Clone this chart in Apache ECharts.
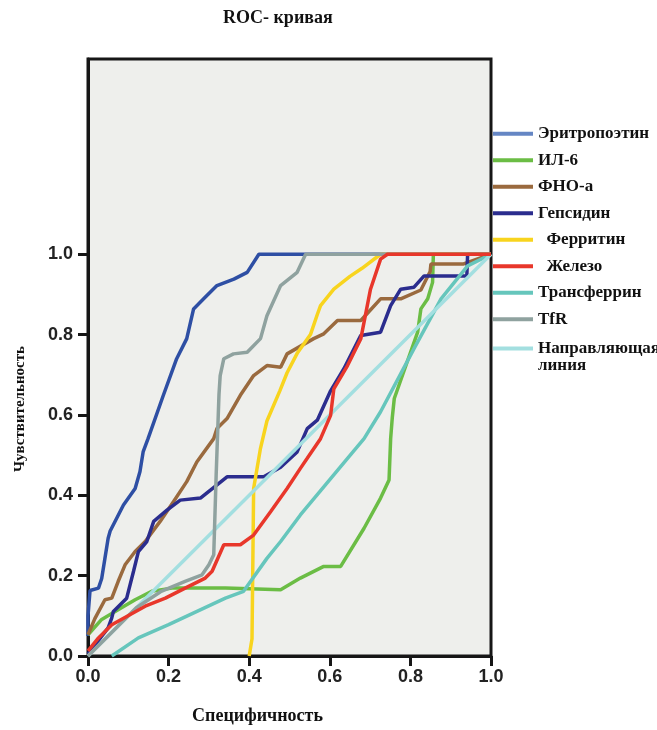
<!DOCTYPE html>
<html><head><meta charset="utf-8">
<script src="https://cdn.jsdelivr.net/npm/echarts@6/dist/echarts.min.js"></script>
<style>html,body{margin:0;padding:0;background:#fff}#c{width:657px;height:730px}</style>
</head><body><div id="c"></div>
<script>
// ---- data (x = специфичность, y = чувствительность) ----
const titleText = 'ROC- кривая';
const xName = 'Специфичность';
const yName = 'Чувствительность';
const tickValues = [0, 0.2, 0.4, 0.6, 0.8, 1.0];
const legendOrder = ['Эритропоэтин', 'ИЛ-6', 'ФНО-а', 'Гепсидин', 'Ферритин', 'Железо', 'Трансферрин', 'TfR'];
const guideName = 'Направляющая линия';

const epo = [[0,0.05],[0,0.1],[0.005,0.163],[0.026,0.169],[0.034,0.193],[0.042,0.243],[0.05,0.293],[0.055,0.311],[0.088,0.376],[0.117,0.417],[0.129,0.459],[0.137,0.509],[0.149,0.541],[0.187,0.649],[0.22,0.74],[0.245,0.79],[0.262,0.864],[0.287,0.889],[0.32,0.922],[0.362,0.938],[0.395,0.955],[0.424,1.0],[1,1]];
const il6 = [[0,0.053],[0.034,0.091],[0.08,0.118],[0.117,0.14],[0.158,0.161],[0.208,0.169],[0.341,0.169],[0.478,0.165],[0.527,0.194],[0.585,0.223],[0.627,0.223],[0.685,0.318],[0.726,0.393],[0.747,0.438],[0.751,0.541],[0.755,0.593],[0.76,0.641],[0.818,0.806],[0.826,0.864],[0.843,0.889],[0.855,0.93],[0.857,1.0],[1,1]];
const tnf = [[0,0.053],[0.017,0.093],[0.042,0.14],[0.059,0.144],[0.075,0.186],[0.092,0.227],[0.117,0.26],[0.142,0.285],[0.179,0.335],[0.212,0.384],[0.245,0.434],[0.27,0.483],[0.312,0.541],[0.32,0.566],[0.345,0.591],[0.378,0.649],[0.411,0.698],[0.444,0.723],[0.478,0.719],[0.494,0.752],[0.56,0.79],[0.585,0.802],[0.619,0.835],[0.677,0.835],[0.726,0.889],[0.776,0.889],[0.826,0.911],[0.849,0.957],[0.851,0.976],[0.932,0.976],[1,1]];
const hepcidin = [[0,0.005],[0.05,0.07],[0.059,0.095],[0.063,0.111],[0.096,0.144],[0.113,0.211],[0.125,0.26],[0.146,0.285],[0.163,0.335],[0.196,0.363],[0.229,0.388],[0.279,0.393],[0.345,0.446],[0.436,0.446],[0.478,0.47],[0.519,0.508],[0.544,0.566],[0.569,0.587],[0.602,0.66],[0.635,0.715],[0.677,0.798],[0.726,0.806],[0.751,0.872],[0.776,0.913],[0.809,0.918],[0.834,0.946],[0.94,0.946],[0.942,1.0],[1,1]];
const ferritin = [[0.4,0],[0.403,0.003],[0.407,0.043],[0.411,0.417],[0.428,0.517],[0.444,0.585],[0.476,0.66],[0.494,0.705],[0.52,0.755],[0.552,0.8],[0.569,0.85],[0.577,0.872],[0.61,0.913],[0.65,0.945],[0.68,0.965],[0.726,1.0],[1,1]];
const iron = [[0,0.013],[0.026,0.045],[0.059,0.078],[0.142,0.124],[0.192,0.144],[0.241,0.169],[0.291,0.194],[0.308,0.211],[0.337,0.277],[0.378,0.277],[0.411,0.301],[0.453,0.359],[0.494,0.417],[0.527,0.467],[0.544,0.492],[0.577,0.541],[0.602,0.599],[0.61,0.665],[0.644,0.723],[0.677,0.79],[0.701,0.913],[0.726,0.988],[0.743,1.0],[1,1]];
const transferrin = [[0.059,0],[0.125,0.045],[0.2,0.078],[0.341,0.144],[0.386,0.161],[0.444,0.243],[0.478,0.285],[0.527,0.351],[0.644,0.492],[0.685,0.541],[0.726,0.608],[0.809,0.765],[0.876,0.889],[0.942,0.971],[1,1]];
const tfr = [[0,0],[0.05,0.05],[0.12,0.12],[0.18,0.16],[0.241,0.186],[0.283,0.202],[0.3,0.227],[0.312,0.252],[0.318,0.45],[0.325,0.65],[0.328,0.698],[0.337,0.74],[0.361,0.752],[0.395,0.756],[0.428,0.79],[0.444,0.847],[0.478,0.922],[0.519,0.955],[0.54,1.0],[1,1]];
const guide = [[0,0],[1,1]];

// ---- styling ----
const colors = {
  'Эритропоэтин': '#2e4fa4',
  'ИЛ-6': '#6bbd45',
  'ФНО-а': '#9a6a3e',
  'Гепсидин': '#2b2d8e',
  'Ферритин': '#f8d41e',
  'Железо': '#e8372b',
  'Трансферрин': '#66c6bc',
  'TfR': '#8fa29f',
  'Направляющая линия': '#a3dfe0'
};
const drawOrder = [
  ['Эритропоэтин', epo], ['ИЛ-6', il6], ['ФНО-а', tnf], ['Гепсидин', hepcidin],
  ['Ферритин', ferritin], ['Трансферрин', transferrin], ['Направляющая линия', guide],
  ['TfR', tfr], ['Железо', iron]
];
const serif = '"Liberation Serif", "Times New Roman", serif';
const sans = '"Liberation Sans", Arial, sans-serif';

const chart = echarts.init(document.getElementById('c'));
const legendText = {fontFamily: serif, fontWeight: 'bold', fontSize: 17, color: '#111', lineHeight: 17};
chart.setOption({
  animation: false,
  backgroundColor: '#fff',
  title: {
    text: titleText, left: 218, top: 4,
    textStyle: {fontFamily: serif, fontWeight: 'bold', fontSize: 18, color: '#111'}
  },
  grid: {
    left: 88, right: 166, top: 59, bottom: 72,
    show: true, backgroundColor: '#eeefec', borderColor: '#161616', borderWidth: 3
  },
  legend: [{
    orient: 'vertical', left: 488, top: 120.2, itemGap: 9.5,
    itemWidth: 40, itemHeight: 4, icon: 'rect',
    data: legendOrder.map(n => n === 'Эритропоэтин'
      ? {name: n, itemStyle: {color: '#6586c4'}} : {name: n}),
    formatter: n => (n === 'Ферритин' || n === 'Железо') ? '  ' + n : n,
    textStyle: legendText
  }, {
    orient: 'vertical', left: 488, top: 318, itemGap: 0,
    itemWidth: 40, itemHeight: 4, icon: 'rect',
    data: [guideName],
    formatter: () => '\nНаправляющая\nлиния',
    textStyle: legendText
  }],
  xAxis: {
    type: 'value', min: 0, max: 1, interval: 0.2,
    name: xName, nameLocation: 'middle', nameGap: 51,
    nameTextStyle: {fontFamily: serif, fontWeight: 'bold', fontSize: 18, color: '#111', padding: [0, 64, 0, 0]},
    axisLine: {lineStyle: {color: '#161616', width: 3}},
    axisTick: {show: true, length: 10, lineStyle: {color: '#161616', width: 3}},
    axisLabel: {margin: 12, formatter: v => v.toFixed(1), fontFamily: sans, fontWeight: 'bold', fontSize: 18, color: '#222'},
    splitLine: {show: false}
  },
  yAxis: {
    type: 'value', min: 0, max: 1.486,
    name: yName, nameLocation: 'middle', nameGap: 60,
    nameTextStyle: {fontFamily: serif, fontWeight: 'bold', fontSize: 15, color: '#111', padding: [0, 103, 0, 0]},
    axisLine: {lineStyle: {color: '#161616', width: 3}},
    axisTick: {show: true, length: 10, customValues: tickValues, lineStyle: {color: '#161616', width: 3}},
    axisLabel: {margin: 15, customValues: tickValues, formatter: v => v.toFixed(1), fontFamily: sans, fontWeight: 'bold', fontSize: 18, color: '#222'},
    splitLine: {show: false}
  },
  series: drawOrder.map(([name, data]) => ({
    name, type: 'line', data,
    showSymbol: false, symbol: 'none',
    lineStyle: {color: colors[name], width: 3.5},
    itemStyle: {color: colors[name]},
    emphasis: {disabled: true}
  }))
});
</script>
</body></html>
